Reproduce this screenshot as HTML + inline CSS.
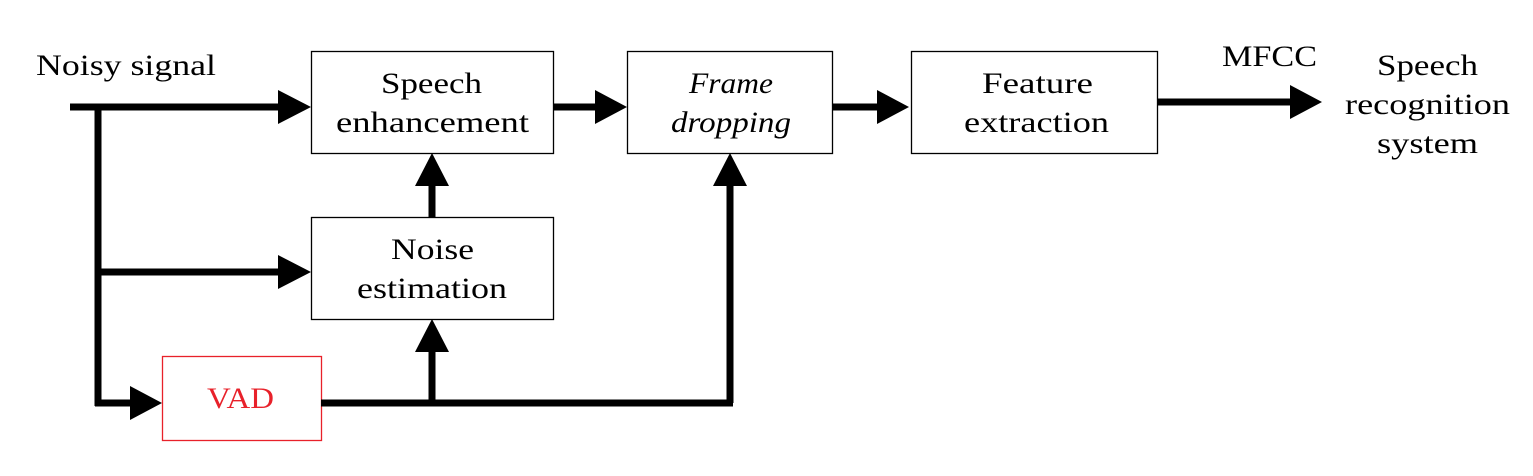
<!DOCTYPE html>
<html><head><meta charset="utf-8"><style>
html,body{margin:0;padding:0;background:#fff;}
svg{display:block;}
text{font-family:"Liberation Serif",serif;font-size:30px;fill:#000;}
</style></head><body>
<svg width="1533" height="476" viewBox="0 0 1533 476" xmlns="http://www.w3.org/2000/svg">
<g fill="none" stroke="#000" stroke-width="1.3">
<rect x="311.5" y="51.5" width="242" height="102"/>
<rect x="311.5" y="217.5" width="242" height="102"/>
<rect x="627.5" y="51.5" width="205" height="102"/>
<rect x="911.5" y="51.5" width="246" height="102"/>
</g>
<rect x="162.5" y="356.5" width="159" height="84" fill="none" stroke="#e8212a" stroke-width="1.3"/>
<g stroke="#000" stroke-width="7" fill="none">
<line x1="70" y1="107" x2="282" y2="107"/>
<line x1="98" y1="107" x2="98" y2="406"/>
<line x1="98" y1="272" x2="282" y2="272"/>
<line x1="95" y1="403" x2="134" y2="403"/>
<line x1="321" y1="403" x2="733" y2="403"/>
<line x1="432" y1="403" x2="432" y2="348"/>
<line x1="730" y1="403" x2="730" y2="182"/>
<line x1="432" y1="217" x2="432" y2="182"/>
<line x1="553" y1="107" x2="598" y2="107"/>
<line x1="832" y1="107" x2="878" y2="107"/>
<line x1="1157" y1="102" x2="1292" y2="102"/>
</g>
<g fill="#000">
<polygon points="278,90 311,107 278,124"/>
<polygon points="278,255 311,272 278,289"/>
<polygon points="130,386 162,403 130,420"/>
<polygon points="415,186 432,153 449,186"/>
<polygon points="415,352 432,319 449,352"/>
<polygon points="713,186 730,153 747,186"/>
<polygon points="595,90 627,107 595,124"/>
<polygon points="877,90 909,107 877,124"/>
<polygon points="1290,85 1322,102 1290,119"/>
</g>
<g lengthAdjust="spacingAndGlyphs">
<text x="36" y="75" textLength="180" lengthAdjust="spacingAndGlyphs">Noisy signal</text>
<text x="381" y="93" textLength="101" lengthAdjust="spacingAndGlyphs">Speech</text>
<text x="336" y="132" textLength="193" lengthAdjust="spacingAndGlyphs">enhancement</text>
<text x="391" y="259" textLength="83" lengthAdjust="spacingAndGlyphs">Noise</text>
<text x="357" y="298" textLength="150" lengthAdjust="spacingAndGlyphs">estimation</text>
<text x="207" y="408" textLength="67" lengthAdjust="spacingAndGlyphs" style="fill:#e8212a">VAD</text>
<text x="689" y="93" textLength="84" lengthAdjust="spacingAndGlyphs" font-style="italic">Frame</text>
<text x="671" y="132" textLength="120" lengthAdjust="spacingAndGlyphs" font-style="italic">dropping</text>
<text x="982" y="93" textLength="111" lengthAdjust="spacingAndGlyphs">Feature</text>
<text x="964" y="132" textLength="145" lengthAdjust="spacingAndGlyphs">extraction</text>
<text x="1222" y="66" textLength="95" lengthAdjust="spacingAndGlyphs">MFCC</text>
<text x="1377" y="75" textLength="101" lengthAdjust="spacingAndGlyphs">Speech</text>
<text x="1345" y="114" textLength="165" lengthAdjust="spacingAndGlyphs">recognition</text>
<text x="1377" y="153" textLength="101" lengthAdjust="spacingAndGlyphs">system</text>
</g>
</svg>
</body></html>
